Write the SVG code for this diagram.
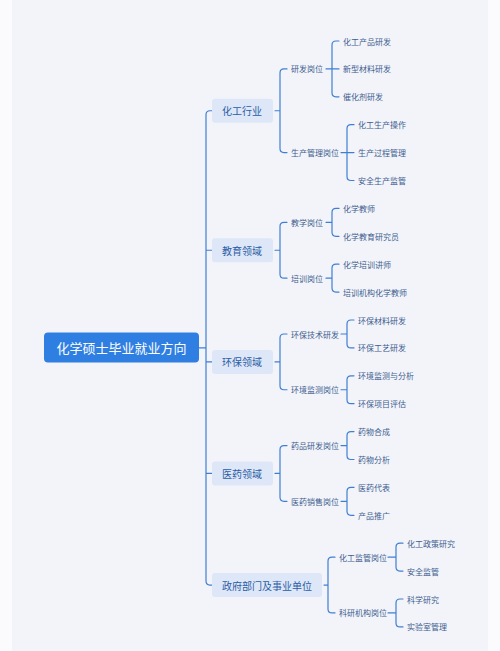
<svg xmlns="http://www.w3.org/2000/svg" width="500" height="651" viewBox="0 0 500 651">
<style>
.ln{fill:none;stroke:#3f7fd3;stroke-width:1.2;stroke-linecap:round}
.t1{font-family:"Noto Sans CJK SC","Noto Sans",sans-serif;font-size:10px;fill:#2b5ca6;dominant-baseline:central}
.t2{font-family:"Noto Sans CJK SC","Noto Sans",sans-serif;font-size:8px;fill:#3d5d8e;dominant-baseline:central}
.b1{fill:#dde7f7}
</style>
<rect x="0" y="0" width="500" height="651" fill="#fbfbfd"/>
<rect x="12" y="0" width="476" height="651" fill="#f3f4fa"/>
<g id="connectors">
<!-- root trunk -->
<path class="ln" d="M199,347.9 H206 M212,110.75 H210 Q206,110.75 206,114.75 V581.05 Q206,585.05 210,585.05 H212 M206,250.25 H212 M206,361.9 H212 M206,473.45 H212"/>
<!-- L1 -> L2 -->
<path class="ln" d="M275,110.75 H280 M287,68.9 H284 Q280,68.9 280,72.9 V148.6 Q280,152.6 284,152.6 H287"/>
<path class="ln" d="M275,250.25 H280 M287,222.35 H284 Q280,222.35 280,226.35 V274.15 Q280,278.15 284,278.15 H287"/>
<path class="ln" d="M275,361.9 H280 M287,334 H284 Q280,334 280,338 V385.75 Q280,389.75 284,389.75 H287"/>
<path class="ln" d="M275,473.45 H280 M287,445.55 H284 Q280,445.55 280,449.55 V497.35 Q280,501.35 284,501.35 H287"/>
<path class="ln" d="M324,585.05 H328 M335,557.15 H332 Q328,557.15 328,561.15 V608.95 Q328,612.95 332,612.95 H335"/>
<!-- L2 -> L3 -->
<path class="ln" d="M326,68.9 H339 M339,41 H336 Q332,41 332,45 V92.8 Q332,96.8 336,96.8 H339"/>
<path class="ln" d="M341,152.6 H354 M354,124.7 H351 Q347,124.7 347,128.7 V176.5 Q347,180.5 351,180.5 H354"/>
<path class="ln" d="M326,222.35 H332 M339,208.4 H336 Q332,208.4 332,212.4 V232.3 Q332,236.3 336,236.3 H339"/>
<path class="ln" d="M326,278.15 H332 M339,264.2 H336 Q332,264.2 332,268.2 V288.1 Q332,292.1 336,292.1 H339"/>
<path class="ln" d="M341,334 H347 M354,320 H351 Q347,320 347,324 V343.9 Q347,347.9 351,347.9 H354"/>
<path class="ln" d="M341,389.75 H347 M354,375.8 H351 Q347,375.8 347,379.8 V399.7 Q347,403.7 351,403.7 H354"/>
<path class="ln" d="M341,445.55 H347 M354,431.6 H351 Q347,431.6 347,435.6 V455.5 Q347,459.5 351,459.5 H354"/>
<path class="ln" d="M341,501.35 H347 M354,487.4 H351 Q347,487.4 347,491.4 V511.3 Q347,515.3 351,515.3 H354"/>
<path class="ln" d="M388,557.15 H396 M403,543.2 H400 Q396,543.2 396,547.2 V567.1 Q396,571.1 400,571.1 H403"/>
<path class="ln" d="M388,612.95 H396 M403,599 H400 Q396,599 396,603 V622.9 Q396,626.9 400,626.9 H403"/>
</g>
<g id="root">
<rect x="44" y="332.5" width="155" height="30" rx="4" fill="#2f7fe2"/>
<text x="121.5" y="347.5" text-anchor="middle" font-family="'Noto Sans CJK SC','Noto Sans',sans-serif" font-size="13" fill="#ffffff" dominant-baseline="central">化学硕士毕业就业方向</text>
</g>
<g id="n-huagong"><rect class="b1" x="212" y="98.75" width="61" height="24" rx="3"/><text class="t1" x="222" y="110.75">化工行业</text></g>
<g id="n-jiaoyu"><rect class="b1" x="212" y="238.25" width="61" height="24" rx="3"/><text class="t1" x="222" y="250.25">教育领域</text></g>
<g id="n-huanbao"><rect class="b1" x="212" y="349.9" width="61" height="24" rx="3"/><text class="t1" x="222" y="361.9">环保领域</text></g>
<g id="n-yiyao"><rect class="b1" x="212" y="461.45" width="61" height="24" rx="3"/><text class="t1" x="222" y="473.45">医药领域</text></g>
<g id="n-zhengfu"><rect class="b1" x="212" y="573.05" width="110" height="24" rx="3"/><text class="t1" x="222" y="585.05">政府部门及事业单位</text></g>
<g id="l2">
<g id="n-yanfa"><text class="t2" x="291" y="68.9">研发岗位</text></g>
<g id="n-shengchan"><text class="t2" x="291" y="152.6">生产管理岗位</text></g>
<g id="n-jiaoxue"><text class="t2" x="291" y="222.35">教学岗位</text></g>
<g id="n-peixun"><text class="t2" x="291" y="278.15">培训岗位</text></g>
<g id="n-hbjs"><text class="t2" x="291" y="334">环保技术研发</text></g>
<g id="n-hjjc"><text class="t2" x="291" y="389.75">环境监测岗位</text></g>
<g id="n-ypyf"><text class="t2" x="291" y="445.55">药品研发岗位</text></g>
<g id="n-yyxs"><text class="t2" x="291" y="501.35">医药销售岗位</text></g>
<g id="n-hgjg"><text class="t2" x="339" y="557.15">化工监管岗位</text></g>
<g id="n-kyjg"><text class="t2" x="339" y="612.95">科研机构岗位</text></g>
</g>
<g id="l3">
<g id="c1"><text class="t2" x="343" y="41">化工产品研发</text></g>
<g id="c2"><text class="t2" x="343" y="68.9">新型材料研发</text></g>
<g id="c3"><text class="t2" x="343" y="96.8">催化剂研发</text></g>
<g id="c4"><text class="t2" x="358" y="124.7">化工生产操作</text></g>
<g id="c5"><text class="t2" x="358" y="152.6">生产过程管理</text></g>
<g id="c6"><text class="t2" x="358" y="180.5">安全生产监管</text></g>
<g id="c7"><text class="t2" x="343" y="208.4">化学教师</text></g>
<g id="c8"><text class="t2" x="343" y="236.3">化学教育研究员</text></g>
<g id="c9"><text class="t2" x="343" y="264.2">化学培训讲师</text></g>
<g id="c10"><text class="t2" x="343" y="292.1">培训机构化学教师</text></g>
<g id="c11"><text class="t2" x="358" y="320">环保材料研发</text></g>
<g id="c12"><text class="t2" x="358" y="347.9">环保工艺研发</text></g>
<g id="c13"><text class="t2" x="358" y="375.8">环境监测与分析</text></g>
<g id="c14"><text class="t2" x="358" y="403.7">环保项目评估</text></g>
<g id="c15"><text class="t2" x="358" y="431.6">药物合成</text></g>
<g id="c16"><text class="t2" x="358" y="459.5">药物分析</text></g>
<g id="c17"><text class="t2" x="358" y="487.4">医药代表</text></g>
<g id="c18"><text class="t2" x="358" y="515.3">产品推广</text></g>
<g id="c19"><text class="t2" x="407" y="543.2">化工政策研究</text></g>
<g id="c20"><text class="t2" x="407" y="571.1">安全监管</text></g>
<g id="c21"><text class="t2" x="407" y="599">科学研究</text></g>
<g id="c22"><text class="t2" x="407" y="626.9">实验室管理</text></g>
</g>
</svg>
